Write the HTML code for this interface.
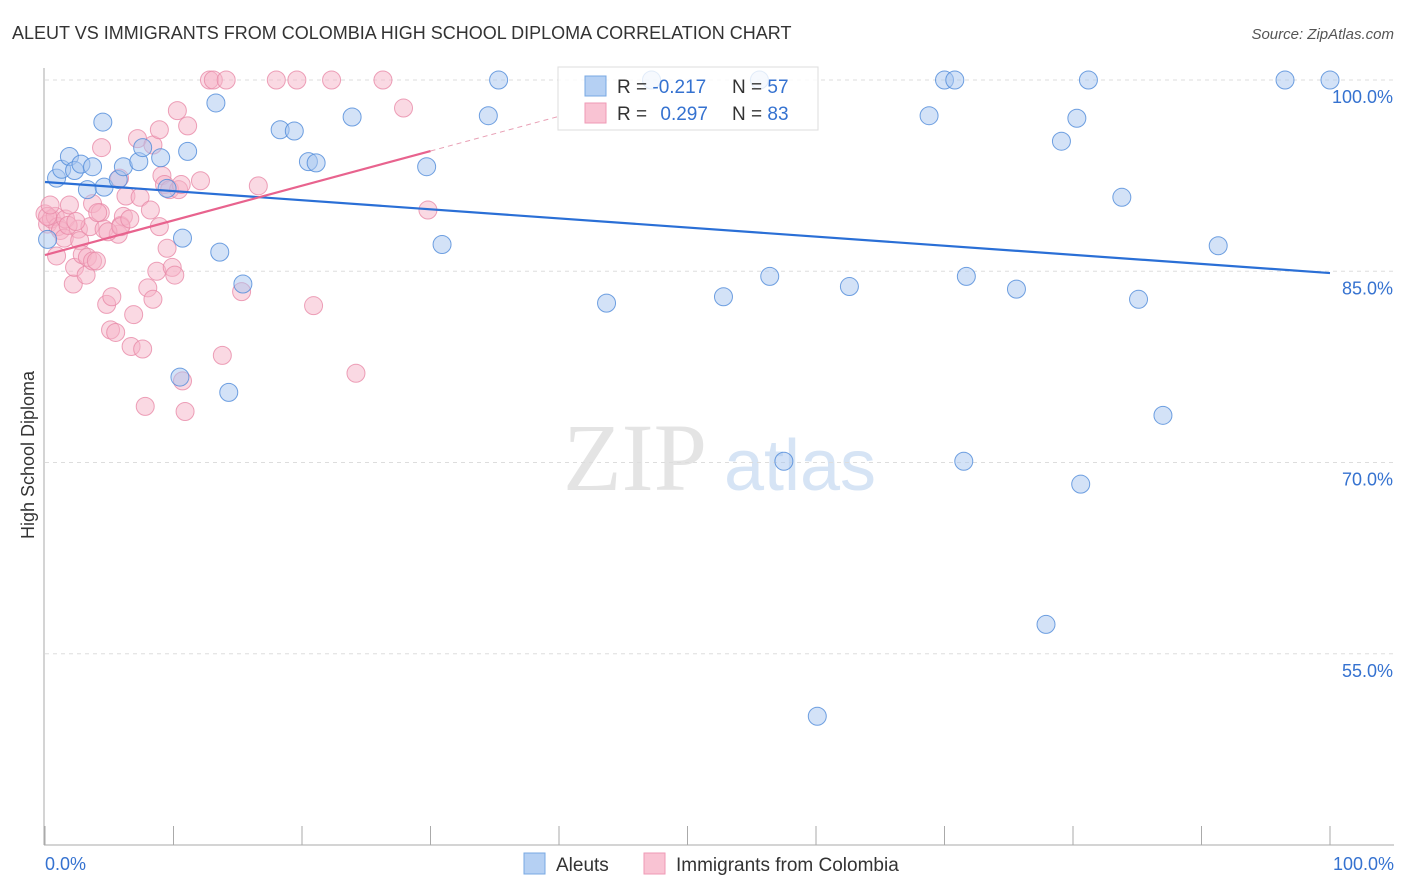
<!DOCTYPE html>
<html><head><meta charset="utf-8"><style>
body{margin:0;background:#fff;font-family:"Liberation Sans",sans-serif;}
svg{display:block}
</style></head><body>
<svg id="chart" width="1406" height="892">
<text x="12" y="39" font-size="18" fill="#333">ALEUT VS IMMIGRANTS FROM COLOMBIA HIGH SCHOOL DIPLOMA CORRELATION CHART</text>
<text x="1394" y="39" font-size="15" fill="#555" text-anchor="end" font-style="italic">Source: ZipAtlas.com</text>
<text x="635" y="490" font-size="96" fill="#e4e4e4" font-family="Liberation Serif,serif" text-anchor="middle">ZIP</text>
<text x="800" y="490" font-size="72" fill="#d6e4f5" text-anchor="middle">atlas</text>
<g id="grid"></g>
<g id="axes"></g>
<g id="pts"></g>
<g id="trend"></g>
<g>
<rect x="558" y="67" width="260" height="63" fill="#fff" fill-opacity="0.8" stroke="#ddd"/>
<rect x="585" y="76" width="21" height="20" fill="#b5d0f3" stroke="#78a8e3"/>
<rect x="585" y="103" width="21" height="20" fill="#f9c3d3" stroke="#ef9ab6"/>
<text x="617" y="93" font-size="19" fill="#333">R = <tspan fill="#3572d0">-0.217</tspan></text>
<text x="732" y="93" font-size="19" fill="#333">N = <tspan fill="#3572d0">57</tspan></text>
<text x="617" y="120" font-size="19" fill="#333">R = <tspan fill="#3572d0" dx="8">0.297</tspan></text>
<text x="732" y="120" font-size="19" fill="#333">N = <tspan fill="#3572d0">83</tspan></text>
</g>
<text transform="translate(34,455) rotate(-90)" font-size="18" fill="#333" text-anchor="middle">High School Diploma</text>
<g>
<rect x="524" y="853" width="21" height="21" fill="#b5d0f3" stroke="#78a8e3"/>
<text x="556" y="871" font-size="19" fill="#333">Aleuts</text>
<rect x="644" y="853" width="21" height="21" fill="#f9c3d3" stroke="#ef9ab6"/>
<text x="676" y="871" font-size="19" fill="#333">Immigrants from Colombia</text>
</g>
</svg>
<script>
const yTicks=[100,85,70,55];
const xTickLabels=["0.0%","100.0%"];
const blueX=[0.2,0.9,1.3,1.9,2.3,2.8,3.3,3.7,4.5,4.6,5.7,6.1,7.3,7.6,9,9.5,10.7,11.1,10.5,13.3,13.6,14.3,15.4,18.3,19.4,20.5,21.1,23.9,29.7,30.9,34.5,35.3,43.7,47.2,52.8,55.6,56.4,57.5,60.1,62.6,68.8,70,70.8,71.5,71.7,75.6,77.9,79.1,80.3,80.6,81.2,83.8,85.1,87,91.3,96.5,100];
const blueY=[87.5,92.3,93,94,92.9,93.4,91.4,93.2,96.7,91.6,92.2,93.2,93.6,94.7,93.9,91.5,87.6,94.4,76.7,98.2,86.5,75.5,84,96.1,96,93.6,93.5,97.1,93.2,87.1,97.2,100,82.5,100,83,100,84.6,70.1,50.1,83.8,97.2,100,100,70.1,84.6,83.6,57.3,95.2,97,68.3,100,90.8,82.8,73.7,87,100,100];
const pinkX=[0,0.2,0.5,0.8,1,1.2,0.9,1.5,1.6,1.9,2.2,2.3,2.6,2.7,2.9,3.2,3.3,3.5,3.7,4,3.7,4.3,4.4,4.6,4.8,5.1,5.2,5.5,5.7,5.8,5.9,6.1,6.3,6.7,6.9,7.2,7.6,7.4,7.8,8,8.2,8.4,8.4,8.7,8.9,9.1,9.3,9.5,9.7,9.9,10.1,10.3,10.4,10.6,10.7,10.9,11.1,12.1,12.8,13.1,13.8,14.1,15.3,16.6,18,19.6,20.9,22.3,24.2,26.3,27.9,29.8,0.2,0.4,1.8,2.4,4.1,4.9,5.9,6.6,8.9];
const pinkY=[89.5,88.7,89.1,89.3,88.5,88.2,86.2,87.6,89.1,90.2,84,85.3,88.3,87.4,86.3,84.7,86.1,88.5,85.8,85.8,90.3,89.6,94.7,88.3,82.4,80.4,83,80.2,87.9,92.3,88.6,89.3,90.9,79.1,81.6,95.4,78.9,90.8,74.4,83.7,89.8,82.8,94.9,85,96.1,92.5,91.8,86.8,91.4,85.3,84.7,97.6,91.4,91.8,76.4,74,96.4,92.1,100,100,78.4,100,83.4,91.7,100,100,82.3,100,77,100,97.8,89.8,89.3,90.2,88.6,88.9,89.6,88.1,88.5,89.1,88.5];
const blueTrend=[92.0,84.86];
const pinkTrend=[86.27,94.43];
const X0=45,X1=1330,Y100=80,PXPER=12.75;
const sx=v=>X0+(X1-X0)*v/100;
const sy=v=>Y100+(100-v)*PXPER;
const NS="http://www.w3.org/2000/svg";
function mk(t,a,p){const e=document.createElementNS(NS,t);for(const k in a)e.setAttribute(k,a[k]);p.appendChild(e);return e;}
const grid=document.getElementById('grid'),axes=document.getElementById('axes'),pts=document.getElementById('pts'),tr=document.getElementById('trend');
yTicks.forEach(v=>{
  const l=mk('line',{x1:45,x2:1394,y1:sy(v),y2:sy(v),stroke:'#ddd','stroke-dasharray':'4,4'},grid);
  
  
  const t=mk('text',{x:1393,y:sy(v)+23,'font-size':18,fill:'#3572d0','text-anchor':'end'},grid);
  t.textContent=v.toFixed(1)+'%';
  
  
});
const ax=mk('line',{x1:44,x2:44,y1:68,y2:845,stroke:'#aaa'},axes);


const bx=mk('line',{x1:44,x2:1394,y1:845,y2:845,stroke:'#aaa'},axes);


for(let i=0;i<=10;i++){
  const tk=mk('line',{x1:sx(i*10),x2:sx(i*10),y1:826,y2:845,stroke:'#aaa'},axes);
  
  
}
[[0,'start',45],[1,'end',1394]].forEach(([i,a,x])=>{
  const t=mk('text',{x:x,y:870,'font-size':18,fill:'#3572d0','text-anchor':a},axes);
  t.textContent=xTickLabels[i];
  
  
});
function dots(xs,ys,fill,stroke,name){
  xs.forEach((x,i)=>{
    const c=mk('circle',{cx:sx(x),cy:sy(ys[i]),r:9,fill:fill,'fill-opacity':0.5,stroke:stroke,'stroke-opacity':0.8,'stroke-width':1},pts);
    
    
  });
}
dots(pinkX,pinkY,'#f5b3c7','#e98aa8','colombia-point');
dots(blueX,blueY,'#a8c6ef','#4d8ad9','aleut-point');
const bl=mk('line',{x1:sx(0),y1:sy(blueTrend[0]),x2:sx(100),y2:sy(blueTrend[1]),stroke:'#2a6fd6','stroke-width':2.2},tr);


const pAt=x=>pinkTrend[0]+(pinkTrend[1]-pinkTrend[0])*x/30;
const pl=mk('line',{x1:sx(0),y1:sy(pAt(0)),x2:sx(30),y2:sy(pAt(30)),stroke:'#e8638e','stroke-width':2.2},tr);


const pd=mk('line',{x1:sx(30),y1:sy(pAt(30)),x2:sx(40),y2:sy(pAt(40)),stroke:'#e8a0b5','stroke-width':1,'stroke-dasharray':'5,4'},tr);


</script>
</body></html>
